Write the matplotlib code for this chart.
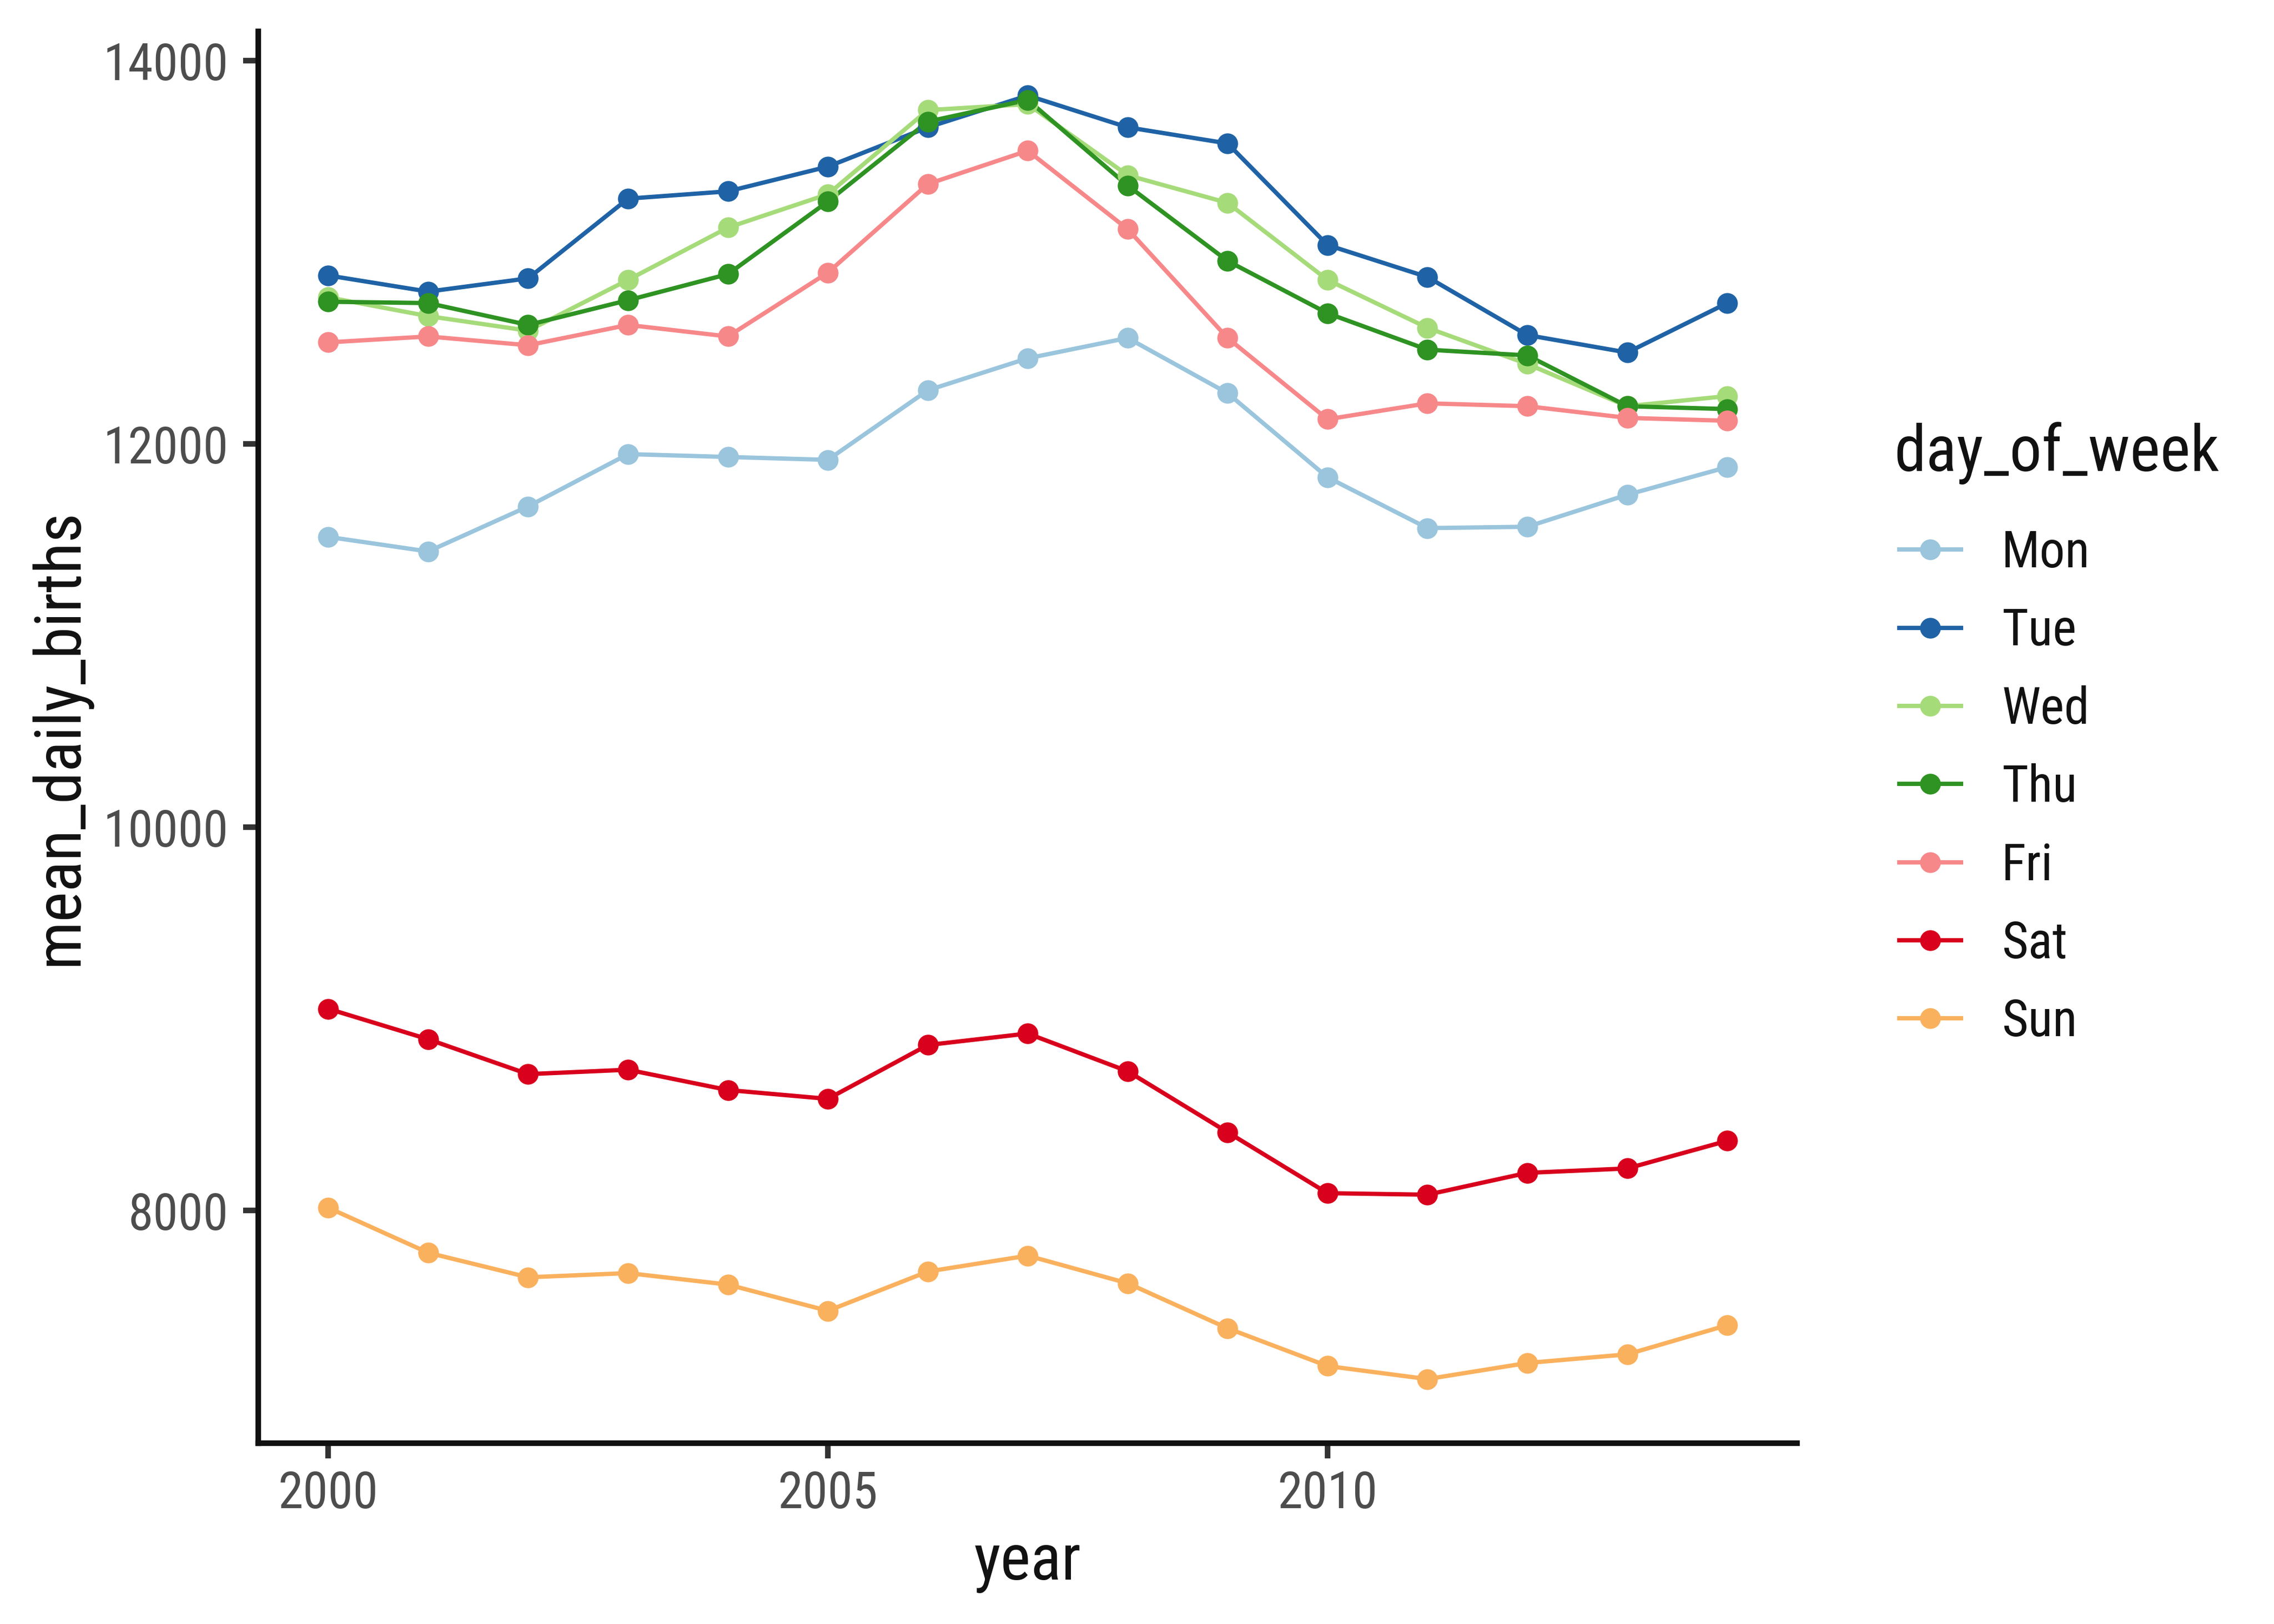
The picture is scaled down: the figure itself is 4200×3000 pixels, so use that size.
import numpy as np
import matplotlib.pyplot as plt
from matplotlib.lines import Line2D

plt.rcParams['font.family'] = ['Roboto Condensed', 'Liberation Sans Narrow', 'Roboto', 'DejaVu Sans']

# -----------------------------
# data
# -----------------------------
years = np.arange(2000, 2015)
days = ["Mon", "Tue", "Wed", "Thu", "Fri", "Sat", "Sun"]

mon = [11515, 11439, 11674, 11947, 11932, 11917, 12280, 12447, 12553, 12265, 11826, 11561, 11568, 11735, 11879]
tue = [12879, 12795, 12864, 13280, 13318, 13447, 13652, 13818, 13652, 13568, 13038, 12871, 12568, 12477, 12735]
wed = [12765, 12667, 12591, 12856, 13129, 13303, 13742, 13773, 13402, 13258, 12856, 12606, 12417, 12197, 12250]
thu = [12742, 12735, 12621, 12750, 12886, 13265, 13682, 13795, 13348, 12955, 12682, 12492, 12462, 12197, 12182]
fri = [12530, 12561, 12515, 12621, 12561, 12894, 13356, 13530, 13121, 12553, 12129, 12212, 12197, 12136, 12121]
sat = [9053, 8894, 8712, 8735, 8629, 8583, 8864, 8924, 8727, 8409, 8091, 8083, 8197, 8220, 8364]
sun = [8015, 7780, 7652, 7674, 7614, 7477, 7682, 7765, 7621, 7386, 7189, 7121, 7205, 7250, 7402]

series = [mon, tue, wed, thu, fri, sat, sun]
colors = ["#9AC5DD", "#1F63A6", "#A6DB7A", "#2E9322", "#F7888A", "#D8001C", "#FAB15E"]

LW = 1.9
MS = 9.2

# -----------------------------
# plot
# -----------------------------
fig = plt.figure(figsize=(14, 10), dpi=300)
ax = fig.add_axes([0.1136, 0.1113, 0.6767, 0.8694])

# lines first, then points on top (ggplot layer order)
for vals, col in zip(series, colors):
    ax.plot(years, vals, color=col, lw=LW, zorder=2)
for vals, col in zip(series, colors):
    ax.plot(years, vals, ls="none", marker="o", ms=MS, color=col,
            markeredgewidth=0, zorder=3)

# ggplot-style 5% expansion
allv = np.concatenate(series)
yr = allv.max() - allv.min()
ax.set_ylim(allv.min() - 0.05 * yr, allv.max() + 0.05 * yr)
xr = years.max() - years.min()
ax.set_xlim(years.min() - 0.05 * xr, years.max() + 0.05 * xr)

ax.set_xticks([2000, 2005, 2010])
ax.set_yticks([8000, 10000, 12000, 14000])

for s in ["top", "right"]:
    ax.spines[s].set_visible(False)
for s in ["left", "bottom"]:
    ax.spines[s].set_linewidth(2.5)
    ax.spines[s].set_color("#111111")
    ax.spines[s].set_capstyle("projecting")

ax.tick_params(axis="both", length=6.7, width=2.5, color="#333333",
               labelcolor="#4D4D4D", labelsize=22.5)
ax.tick_params(axis="x", pad=5)
ax.tick_params(axis="y", pad=6.5)

ax.set_xlabel("year", fontsize=28.5, color="#111111", va="baseline")
ax.xaxis.set_label_coords(0.5, -0.0966)
ax.set_ylabel("mean_daily_births", fontsize=28.5, color="#111111",
              va="baseline", ha="center", rotation_mode="anchor")
ax.yaxis.set_label_coords(-0.1179, 0.5)

# legend
handles = [Line2D([], [], color=c, lw=LW, marker="o", ms=MS, markeredgewidth=0)
           for c in colors]
fig.text(3498 / 4200, 1 - 870 / 3000, "day_of_week", fontsize=28.5,
         color="#111111", ha="left", va="baseline")
leg = fig.legend(handles, days, loc="upper left",
                 bbox_to_anchor=(3508 / 4200, 1 - 977 / 3000),
                 frameon=False, fontsize=22.5, labelcolor="#111111",
                 handlelength=1.22, handletextpad=0.8, labelspacing=0.58,
                 borderaxespad=0, borderpad=0)

fig.savefig("out.png", dpi=300, facecolor="white")
